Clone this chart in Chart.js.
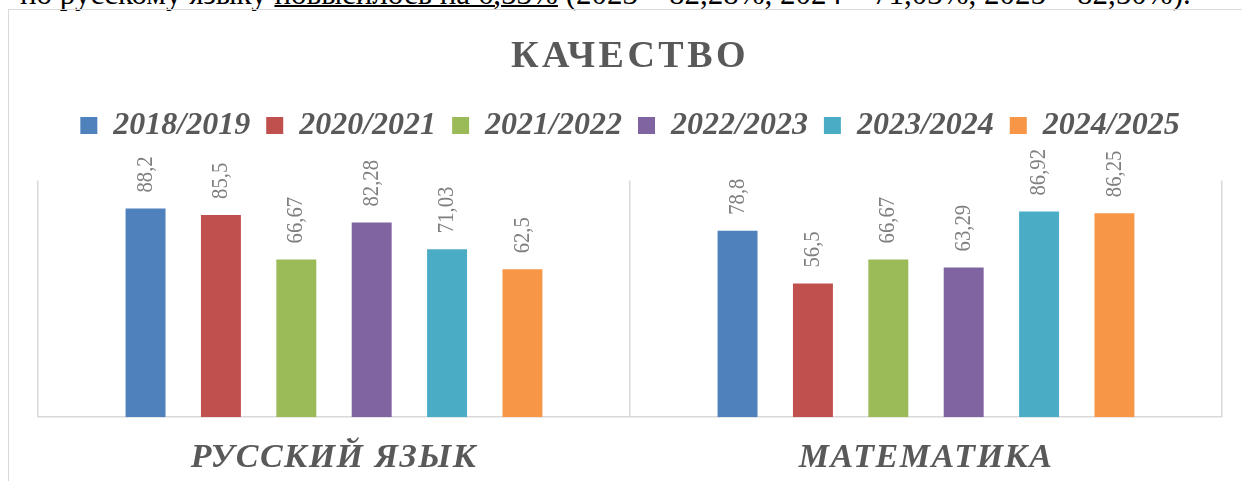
<!DOCTYPE html>
<html lang="ru">
<head>
<meta charset="utf-8">
<title>Качество</title>
<script src="https://cdn.jsdelivr.net/npm/chart.js@4.4.1/dist/chart.umd.min.js"></script>
<style>
  html, body {
    margin: 0;
    padding: 0;
    background: #fff;
    width: 1242px;
    height: 481px;
    overflow: hidden;
    position: relative;
  }
  #intro {
    position: absolute;
    left: 20px;
    top: -24px;
    line-height: 31px;
    font: 31px "Liberation Serif", serif;
    white-space: nowrap;
    color: #000;
  }
  #intro u { text-decoration-thickness: 2px; }
  #frame {
    position: absolute;
    left: 8px;
    top: 9px;
    width: 1260px;
    height: 500px;
    border: 1px solid #d9d9d9;
  }
  #chart-wrap {
    position: absolute;
    left: 8px;
    top: 9px;
    width: 1244px;
    height: 491px;
  }
</style>
</head>
<body>
<div id="intro">по русскому языку <u>повысилось на 6,53%</u> (2023 – 82,28%, 2024 – 71,03%, 2025 – 82,50%).</div>
<div id="frame"></div>
<div id="chart-wrap"><canvas id="qualityChart"></canvas></div>
<script>
// Data
const subjects = ["РУССКИЙ ЯЗЫК", "МАТЕМАТИКА"];
const schoolYears = ["2018/2019", "2020/2021", "2021/2022", "2022/2023", "2023/2024", "2024/2025"];
const values2018 = [88.2, 78.8];
const values2020 = [85.5, 56.5];
const values2021 = [66.67, 66.67];
const values2022 = [82.28, 63.29];
const values2023 = [71.03, 86.92];
const values2024 = [62.5, 86.25];
const yearColors = ["#4F81BD", "#C0504D", "#9BBB59", "#8064A2", "#4BACC6", "#F79646"];

const seriesValues = [values2018, values2020, values2021, values2022, values2023, values2024];

const labelFont = '"Liberation Serif", "Times New Roman", serif';

// wraps a draw method so its text gets letter spacing
const addSpacing = (obj, method, spacing) => {
  if (!obj || obj["_spaced_" + method]) return;
  const orig = obj[method];
  obj[method] = function (...args) {
    const ctx = this.ctx;
    ctx.save();
    ctx.letterSpacing = spacing;
    orig.apply(this, args);
    ctx.restore();
  };
  obj["_spaced_" + method] = true;
};

const layoutTweaks = {
  id: "layoutTweaks",
  beforeLayout(chart) {
    const legend = chart.legend;
    if (legend && !legend._extraGap) {
      const origFit = legend.fit;
      legend.fit = function () {
        origFit.call(this);
        this.height += 29;
      };
      legend._extraGap = true;
    }
  },
  afterLayout(chart) {
    addSpacing(chart.titleBlock, "draw", "3.5px");
    addSpacing(chart.scales.x, "drawLabels", "1.5px");
  },
};

// rotated value labels above each bar (slightly condensed, like the original)
const barLabels = {
  id: "barLabels",
  afterDatasetsDraw(chart) {
    const ctx = chart.ctx;
    ctx.save();
    ctx.font = "23px " + labelFont;
    ctx.fillStyle = "#7f7f7f";
    ctx.textAlign = "left";
    ctx.textBaseline = "middle";
    chart.data.datasets.forEach((ds, i) => {
      chart.getDatasetMeta(i).data.forEach((bar, j) => {
        ctx.save();
        ctx.translate(bar.x, bar.y - 16);
        ctx.rotate(-Math.PI / 2);
        ctx.scale(0.9, 1);
        ctx.fillText(String(ds.data[j]).replace(".", ","), 0, 0);
        ctx.restore();
      });
    });
    ctx.restore();
  },
};

const ctx = document.getElementById("qualityChart").getContext("2d");
new Chart(ctx, {
  type: "bar",
  data: {
    labels: subjects,
    datasets: schoolYears.map((year, i) => ({
      label: year,
      data: seriesValues[i],
      backgroundColor: yearColors[i],
      borderWidth: 0,
      categoryPercentage: 0.764,
      barPercentage: 0.53,
    })),
  },
  options: {
    responsive: true,
    maintainAspectRatio: false,
    animation: false,
    layout: { padding: { top: 0, left: 30, right: 30, bottom: 0 } },
    plugins: {
      title: {
        display: true,
        text: "КАЧЕСТВО",
        color: "#595959",
        font: { family: labelFont, size: 38, weight: "bold" },
        padding: { top: 25, bottom: 14 },
      },
      legend: {
        display: true,
        position: "top",
        labels: {
          boxWidth: 17,
          boxHeight: 17,
          padding: 16,
          color: "#595959",
          font: { family: labelFont, size: 32, style: "italic", weight: "bold" },
        },
      },
      tooltip: { enabled: false },
    },
    scales: {
      x: {
        offset: true,
        grid: { display: true, offset: true, color: "#d9d9d9", lineWidth: 1.5, drawTicks: false },
        border: { display: true, color: "#d9d9d9", width: 1.5 },
        ticks: {
          color: "#595959",
          padding: 21,
          font: { family: labelFont, size: 34, style: "italic", weight: "bold" },
        },
      },
      y: {
        display: false,
        min: 0,
        max: 100,
      },
    },
  },
  plugins: [layoutTweaks, barLabels],
});
</script>
</body>
</html>
